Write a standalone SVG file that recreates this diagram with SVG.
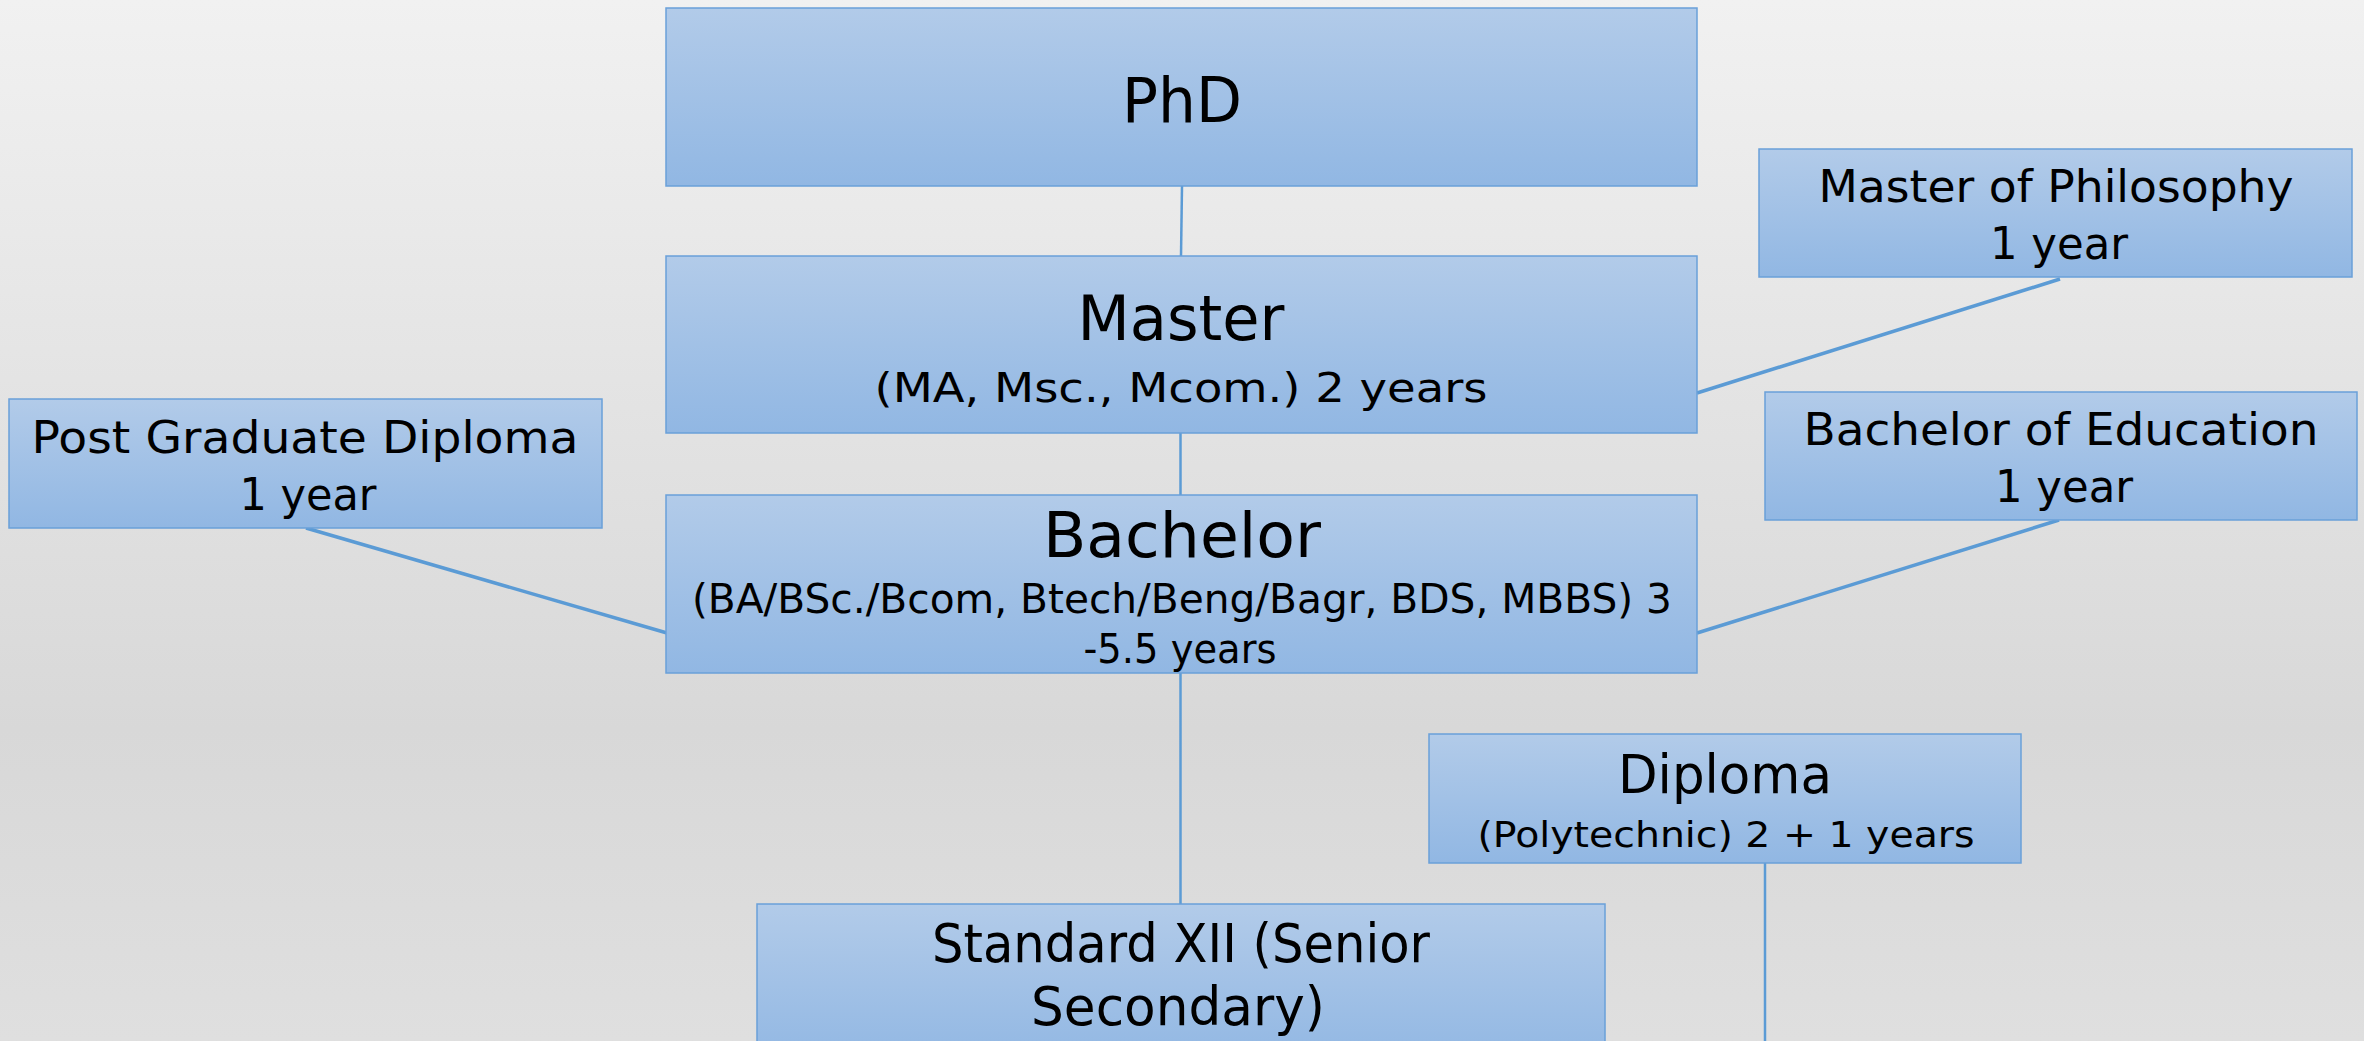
<svg xmlns="http://www.w3.org/2000/svg" width="2364" height="1041" viewBox="0 0 2364 1041">
<defs>
<linearGradient id="bg" x1="0" y1="0" x2="0" y2="1">
<stop offset="0" stop-color="#f1f1f1"/>
<stop offset="0.7" stop-color="#d8d8d8"/>
<stop offset="1" stop-color="#dfdfdf"/>
</linearGradient>
<linearGradient id="box" x1="0" y1="0" x2="0" y2="1">
<stop offset="0" stop-color="#b2cbe9"/>
<stop offset="1" stop-color="#91b7e3"/>
</linearGradient>
</defs>
<style>
.box{fill:url(#box);stroke:#6aa0d9;stroke-width:1.5}
.t{font-family:"DejaVu Sans","Liberation Sans",sans-serif;fill:#000;text-anchor:middle}
.conn line{stroke:#5b9bd5;fill:none}
.v{stroke-width:2.5}
.d{stroke-width:3.5}
</style>
<rect width="2364" height="1041" fill="url(#bg)"/>
<g id="connectors" class="conn">
<line class="v" x1="1182" y1="186" x2="1181" y2="256"/>
<line class="v" x1="1180.5" y1="433" x2="1180.5" y2="495"/>
<line class="v" x1="1180.5" y1="673" x2="1180.5" y2="904"/>
<line class="d" x1="306" y1="528" x2="667" y2="633"/>
<line class="d" x1="1697" y1="393" x2="2060" y2="279"/>
<line class="d" x1="1697" y1="633" x2="2059" y2="520"/>
<line class="v" x1="1765" y1="863" x2="1765" y2="1041"/>
</g>
<g id="phd">
<rect class="box" x="666" y="8" width="1031" height="178"/>
<text class="t" x="1182" y="122" font-size="62" textLength="120" lengthAdjust="spacingAndGlyphs">PhD</text>
</g>
<g id="master">
<rect class="box" x="666" y="256" width="1031" height="177"/>
<text class="t" x="1181" y="340" font-size="62" textLength="207" lengthAdjust="spacingAndGlyphs">Master</text>
<text class="t" x="1181" y="402" font-size="41" textLength="613" lengthAdjust="spacingAndGlyphs">(MA, Msc., Mcom.) 2 years</text>
</g>
<g id="bachelor">
<rect class="box" x="666" y="495" width="1031" height="178"/>
<text class="t" x="1182" y="557" font-size="62" textLength="278" lengthAdjust="spacingAndGlyphs">Bachelor</text>
<text class="t" x="1182" y="613" font-size="41" textLength="980" lengthAdjust="spacingAndGlyphs">(BA/BSc./Bcom, Btech/Beng/Bagr, BDS, MBBS) 3</text>
<text class="t" x="1180" y="663" font-size="41" textLength="193" lengthAdjust="spacingAndGlyphs">-5.5 years</text>
</g>
<g id="pgd">
<rect class="box" x="9" y="399" width="593" height="129"/>
<text class="t" x="305" y="453" font-size="45" textLength="547" lengthAdjust="spacingAndGlyphs">Post Graduate Diploma</text>
<text class="t" x="308" y="510" font-size="45" textLength="137" lengthAdjust="spacingAndGlyphs">1 year</text>
</g>
<g id="mphil">
<rect class="box" x="1759" y="149" width="593" height="128"/>
<text class="t" x="2056" y="202" font-size="45" textLength="475" lengthAdjust="spacingAndGlyphs">Master of Philosophy</text>
<text class="t" x="2059" y="259" font-size="45" textLength="138" lengthAdjust="spacingAndGlyphs">1 year</text>
</g>
<g id="bed">
<rect class="box" x="1765" y="392" width="592" height="128"/>
<text class="t" x="2061" y="445" font-size="45" textLength="515" lengthAdjust="spacingAndGlyphs">Bachelor of Education</text>
<text class="t" x="2064" y="502" font-size="45" textLength="138" lengthAdjust="spacingAndGlyphs">1 year</text>
</g>
<g id="diploma">
<rect class="box" x="1429" y="734" width="592" height="129"/>
<text class="t" x="1725" y="793" font-size="53" textLength="214" lengthAdjust="spacingAndGlyphs">Diploma</text>
<text class="t" x="1726" y="847" font-size="36" textLength="497" lengthAdjust="spacingAndGlyphs">(Polytechnic) 2 + 1 years</text>
</g>
<g id="std12">
<rect class="box" x="757" y="904" width="848" height="160"/>
<text class="t" x="1181" y="962" font-size="54" textLength="498" lengthAdjust="spacingAndGlyphs">Standard XII (Senior</text>
<text class="t" x="1178" y="1025" font-size="54" textLength="294" lengthAdjust="spacingAndGlyphs">Secondary)</text>
</g>
</svg>
